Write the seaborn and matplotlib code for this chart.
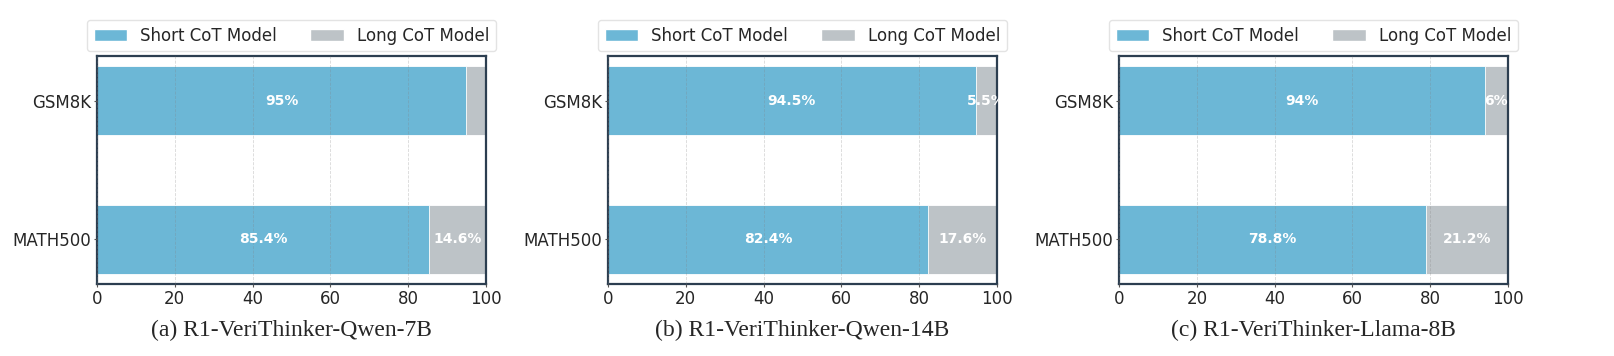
import matplotlib
matplotlib.use("Agg")
import matplotlib.pyplot as plt
from matplotlib.patches import Patch
import seaborn as sns
import pandas as pd

# ===========================
# DATA
# ===========================
datasets = ["GSM8K", "MATH500"]
model_names = ["(a) R1-VeriThinker-Qwen-7B",
               "(b) R1-VeriThinker-Qwen-14B",
               "(c) R1-VeriThinker-Llama-8B"]
short_cot = [
    [95.0, 85.4],   # Qwen-7B
    [94.5, 82.4],   # Qwen-14B
    [94.0, 78.8],   # Llama-8B
]
long_cot = [
    [5.0, 14.6],
    [5.5, 17.6],
    [6.0, 21.2],
]

BLUE = "#6cb7d6"
GREY = "#bdc3c7"
BORDER = "#2c3e50"

sns.set_style("white")
plt.rcParams["font.family"] = ["DejaVu Sans"]

fig, axes = plt.subplots(1, 3, figsize=(16.14, 3.56), dpi=100)
fig.subplots_adjust(left=0.0601, right=0.9343, top=0.8427, bottom=0.2022, wspace=0.314)

for i, ax in enumerate(axes):
    df = pd.DataFrame({
        "dataset": datasets,
        "short": short_cot[i],
        "long": long_cot[i],
    })
    df["total"] = df["short"] + df["long"]

    # stacked bar: total (grey) first, short (blue) on top
    sns.barplot(data=df, y="dataset", x="total", color=GREY, width=0.5,
                edgecolor="white", linewidth=0.6, saturation=1, ax=ax)
    sns.barplot(data=df, y="dataset", x="short", color=BLUE, width=0.5,
                edgecolor="white", linewidth=0.6, saturation=1, ax=ax)

    # percent labels
    for j, row in df.iterrows():
        ax.text(row["short"] / 2, j, f"{row['short']:g}%", ha="center", va="center",
                color="white", fontsize=10, fontweight="bold")
        if row["long"] > 5:
            ax.text(row["short"] + row["long"] / 2, j, f"{row['long']:g}%",
                    ha="center", va="center", color="white", fontsize=10,
                    fontweight="bold")

    ax.set_xlim(0, 100)
    ax.set_ylim(1.325, -0.325)
    ax.set_xticks([0, 20, 40, 60, 80, 100])
    ax.set_ylabel("")
    ax.set_xlabel(model_names[i], fontsize=17, family=["Liberation Serif"], labelpad=8)
    ax.tick_params(axis="both", labelsize=12, length=2.5, width=0.8, pad=2,
                   direction="out", bottom=True, left=True, color="#555555")

    ax.grid(axis="x", linestyle="--", linewidth=0.6, color="grey", alpha=0.3)
    ax.set_axisbelow(False)

    for s in ax.spines.values():
        s.set_visible(True)
        s.set_color(BORDER)
        s.set_linewidth(1.6)

    handles = [Patch(facecolor=BLUE, edgecolor="white", label="Short CoT Model"),
               Patch(facecolor=GREY, edgecolor="white", label="Long CoT Model")]
    ax.legend(handles=handles, ncol=2, loc="lower center", bbox_to_anchor=(0.5, 1.02),
              borderaxespad=0, fontsize=12, frameon=True, columnspacing=2.0,
              edgecolor="#dddddd", fancybox=True)

fig.savefig("out.png", dpi=100)
